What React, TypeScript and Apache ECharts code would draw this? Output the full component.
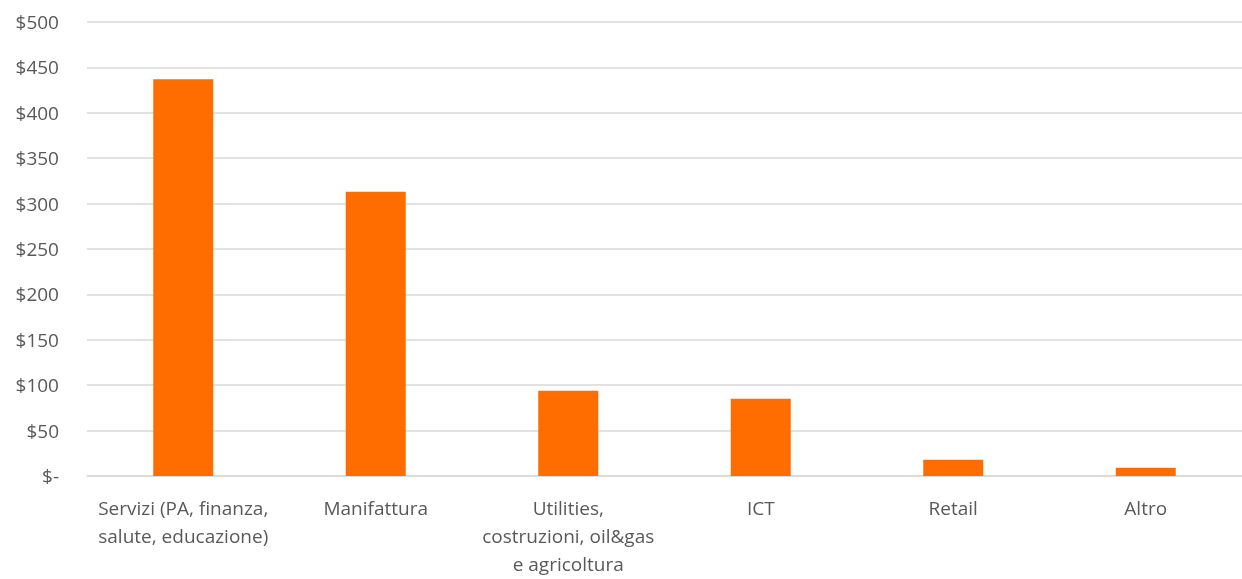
import React, { useEffect, useRef } from "react";
import * as echarts from "echarts";

const categories = [
  "Servizi (PA, finanza,\nsalute, educazione)",
  "Manifattura",
  "Utilities,\ncostruzioni, oil&gas\ne agricoltura",
  "ICT",
  "Retail",
  "Altro",
];
const values = [437, 313, 94, 85, 18, 9];
const yTicks = { min: 0, max: 500, interval: 50 };

export default function App() {
  const ref = useRef<HTMLDivElement>(null);
  useEffect(() => {
    if (!ref.current) return;
    const chart = echarts.init(ref.current, null, { renderer: "svg" });
    const font = "'Open Sans', sans-serif";
    chart.setOption({
      animation: false,
      grid: { left: 87, right: -2, top: 22, bottom: 103, containLabel: false },
      xAxis: {
        type: "category",
        data: categories,
        axisLine: { show: true, lineStyle: { color: "#D9D9D9", width: 1.5 } },
        axisTick: { show: false },
        axisLabel: {
          color: "#595959",
          fontFamily: font,
          fontSize: 19,
          lineHeight: 28,
          margin: 18,
          interval: 0,
        },
      },
      yAxis: {
        type: "value",
        min: yTicks.min,
        max: yTicks.max,
        interval: yTicks.interval,
        axisLine: { show: false },
        axisTick: { show: false },
        splitLine: { lineStyle: { color: "#D9D9D9", width: 1.5 } },
        axisLabel: {
          color: "#595959",
          fontFamily: font,
          fontSize: 19,
          margin: 28,
          formatter: (v: number) => (v === 0 ? "$-" : "$" + v),
        },
      },
      series: [
        {
          type: "bar",
          data: values,
          barWidth: 60,
          itemStyle: { color: "#FF6D00" },
        },
      ],
    });
    return () => chart.dispose();
  }, []);
  return (
    <div
      ref={ref}
      style={{ position: "fixed", left: 0, top: 0, width: 1242, height: 579 }}
    />
  );
}
